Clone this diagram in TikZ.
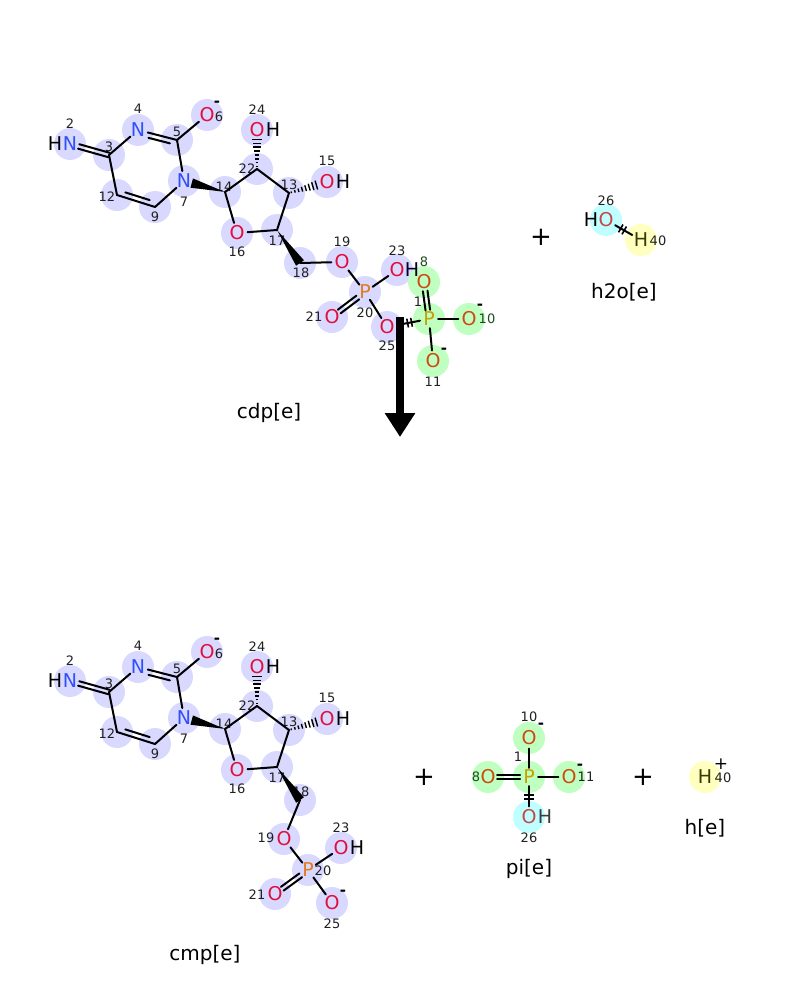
\documentclass[tikz,border=0pt]{standalone}
\usepackage{fontspec}
\setmainfont{DejaVu Sans}
\usetikzlibrary{calc,arrows.meta}
\definecolor{lav}{HTML}{D9D9FF}
\definecolor{grn}{HTML}{BFFFBF}
\definecolor{cyn}{HTML}{BFFFFF}
\definecolor{yel}{HTML}{FFFFBF}
\definecolor{ncol}{HTML}{3050F8}
\definecolor{ocol}{HTML}{E0103C}
\definecolor{pcol}{HTML}{E07B20}
\definecolor{ogcol}{HTML}{CC4A14}
\definecolor{pgcol}{HTML}{C8A000}
\definecolor{ocyan}{HTML}{C44848}
\definecolor{hycol}{HTML}{3A3A00}
\definecolor{numc}{HTML}{202020}
\definecolor{numg}{HTML}{1E4A1E}
\newcommand\atomfont{\fontsize{19}{19}\selectfont}
\newcommand\numfont{\fontsize{13}{13}\selectfont}
\newcommand\lblfont{\fontsize{20}{20}\selectfont}
\pgfdeclarelayer{bg}
\pgfsetlayers{bg,main}
\tikzset{
  atom/.style={circle,minimum size=18pt,inner sep=0pt,font=\atomfont},
  hyd/.style={inner sep=0pt,font=\atomfont,text=black},
  num/.style={inner sep=0pt,font=\numfont,text=numc},
  numgr/.style={inner sep=0pt,font=\numfont,text=numg},
  chg/.style={inner sep=0pt,font=\fontsize{15}{15}\selectfont\bfseries,text=black},
  lbl/.style={inner sep=0pt,font=\lblfont,text=black},
  plussign/.style={inner sep=0pt,font=\fontsize{26}{26}\selectfont,text=black},
  bond/.style={line width=2pt,line cap=round,draw=black},
  markb/.style={line width=1.6pt,draw=black},
  reactarrow/.style={line width=8pt,-{Triangle[width=29pt,length=24pt]}}
}
% symmetric double bond
\newcommand\dblb[4]{%
  \draw[bond,shorten <=#3,shorten >=#4] ($(#1)!2.3pt!90:(#2)$) -- ($(#2)!2.3pt!-90:(#1)$);
  \draw[bond,shorten <=#3,shorten >=#4] ($(#1)!2.3pt!-90:(#2)$) -- ($(#2)!2.3pt!90:(#1)$);}
% inner line of a ring double bond
\newcommand\innerb[5]{%
  \draw[bond] ($(#1)!#3!(#2)!5pt!#5:(#2)$) -- ($(#1)!#4!(#2)!5pt!#5:(#2)$);}
% hashed bond: narrow atom, wide atom, end fraction
\newcommand\hashb[3]{%
  \foreach \k in {0,...,7}{%
    \pgfmathsetmacro\hf{0.06+(#3-0.06)*\k/7}%
    \pgfmathsetmacro\hw{0.8+3.8*\k/7}%
    \draw[line width=1.4pt] ($(#1)!\hf!(#2)!\hw pt!90:(#2)$) -- ($(#1)!\hf!(#2)!\hw pt!-90:(#2)$);}}
% wedge bond: narrow atom, wide atom, inset at wide end
\newcommand\wedgeb[3]{%
  \fill ($(#1)!0.5pt!(#2)$) -- ($(#2)!#3!(#1)!4.8pt!90:(#1)$) -- ($(#2)!#3!(#1)!4.8pt!-90:(#1)$) -- cycle;}
% two cross marks on a bond
\newcommand\crossb[5]{%
  \draw[markb] ($(#1)!#3!(#2)!#5!90:(#2)$) -- ($(#1)!#3!(#2)!#5!-90:(#2)$);
  \draw[markb] ($(#1)!#4!(#2)!#5!90:(#2)$) -- ($(#1)!#4!(#2)!#5!-90:(#2)$);}
% cytidine part
\newcommand\nucpart[1]{%
  \coordinate (#1C3) at (109,155);
  \coordinate (#1C5) at (177,140);
  \coordinate (#1C9) at (155,207);
  \coordinate (#1C12) at (117,195);
  \coordinate (#1C14) at (225,192);
  \coordinate (#1C22) at (257,169);
  \coordinate (#1C13) at (289,193);
  \coordinate (#1C17) at (277,230);
  \coordinate (#1C18) at (300,263);
  \begin{pgfonlayer}{bg}
    \foreach \p/\q in {70/144,109/155,138/130,177/140,207/115,184/181,155/207,117/195,225/192,257/169,257/130,289/193,327/182,237/233,277/230,300/263}{\fill[lav] (\p,\q) circle (16pt);}
  \end{pgfonlayer}
  \node[num] (#1n2) at (70,124) {2};
  \node[num] (#1n3) at (109,147) {3};
  \node[num] (#1n4) at (138,109) {4};
  \node[num] (#1n5) at (177,132) {5};
  \node[num] (#1n6) at (219,117) {6};
  \node[num] (#1n7) at (184,202) {7};
  \node[num] (#1n9) at (155,217) {9};
  \node[num] (#1n12) at (107,197) {12};
  \node[num] (#1n13) at (289,185) {13};
  \node[num] (#1n14) at (224,187) {14};
  \node[num] (#1n15) at (327,161) {15};
  \node[num] (#1n16) at (237,252) {16};
  \node[num] (#1n17) at (277,241) {17};
  \node[num] (#1n22) at (247,169) {22};
  \node[num] (#1n24) at (257,110) {24};
  \node[atom,text=ncol] (#1N2) at (70,144) {N};
  \node[atom,text=ncol] (#1N4) at (138,130) {N};
  \node[atom,text=ocol] (#1O6) at (207,115) {O};
  \node[atom,text=ncol] (#1N7) at (184,181) {N};
  \node[atom,text=ocol] (#1O24) at (257,130) {O};
  \node[atom,text=ocol] (#1O15) at (327,182) {O};
  \node[atom,text=ocol] (#1O16) at (237,233) {O};
  \node[hyd] (#1H2) at (55,144) {H};
  \node[hyd] (#1H24) at (273,130) {H};
  \node[hyd] (#1H15) at (343,182) {H};
  \node[chg] (#1q6) at (217,104) {-};
  \dblb{#1N2}{#1C3}{9pt}{0pt}
  \draw[bond] (#1C3) -- (#1N4);
  \draw[bond] (#1N4) -- (#1C5);
  \innerb{#1N4}{#1C5}{0.3}{0.85}{-90}
  \draw[bond] (#1C5) -- (#1O6);
  \draw[bond] (#1C5) -- (#1N7);
  \draw[bond] (#1N7) -- (#1C9);
  \draw[bond] (#1C9) -- (#1C12);
  \innerb{#1C12}{#1C9}{0.18}{0.82}{90}
  \draw[bond] (#1C12) -- (#1C3);
  \wedgeb{#1C14}{#1N7}{8pt}
  \draw[bond] (#1C14) -- (#1C22);
  \draw[bond] (#1C22) -- (#1C13);
  \draw[bond] (#1C13) -- (#1C17);
  \draw[bond] (#1C17) -- (#1O16);
  \draw[bond] (#1O16) -- (#1C14);
  \hashb{#1C22}{#1O24}{0.76}
  \hashb{#1C13}{#1O15}{0.72}
}
\begin{document}
\begin{tikzpicture}[x=1pt,y=-1pt]
\useasboundingbox (0,0) rectangle (800,1000);
% ================= top: cdp =================
\nucpart{t}
\node[num] (tn18) at (301,273) {18};
\wedgeb{tC17}{tC18}{0pt}
\begin{pgfonlayer}{bg}
  \foreach \p/\q in {342/262,365/292,397/270,332/317,387/327}{\fill[lav] (\p,\q) circle (16pt);}
  \foreach \p/\q in {429/319,424/282,469/319,433/361}{\fill[grn] (\p,\q) circle (16pt);}
  \fill[cyn] (606,220) circle (16pt);
  \fill[yel] (641,240) circle (16pt);
\end{pgfonlayer}
\node[num] (tn19) at (342,242) {19};
\node[num] (tn20) at (365,313) {20};
\node[num] (tn21) at (314,317) {21};
\node[num] (tn23) at (397,251) {23};
\node[num] (tn25) at (387,346) {25};
\node[num] (tn1) at (418,302) {1};
\node[numgr] (tn8) at (424,262) {8};
\node[numgr] (tn10) at (487,319) {10};
\node[num] (tn11) at (433,382) {11};
\node[atom,text=ocol] (tO19) at (342,262) {O};
\node[atom,text=pcol] (tP20) at (365,292) {P};
\node[atom,text=ocol] (tO23) at (397,270) {O};
\node[hyd,text=black!85!blue] (tH23) at (412,270) {H};
\node[atom,text=ocol] (tO21) at (332,317) {O};
\node[atom,text=ocol] (tO25) at (387,327) {O};
\node[atom,text=pgcol] (tP1) at (429,319) {P};
\node[atom,text=ogcol] (tO8) at (424,282) {O};
\node[atom,text=ogcol] (tO10) at (469,319) {O};
\node[atom,text=ogcol] (tO11) at (433,361) {O};
\node[chg] (tq10) at (480,307) {-};
\node[chg] (tq11) at (444,351) {-};
\draw[bond] (tC18) -- (tO19);
\draw[bond] (tO19) -- (tP20);
\draw[bond] (tP20) -- (tO23);
\dblb{tP20}{tO21}{9pt}{9pt}
\draw[bond] (tP20) -- (tO25);
\draw[bond] (tO25) -- (tP1);
\crossb{tO25}{tP1}{21pt}{25pt}{4.5pt}
\dblb{tP1}{tO8}{9pt}{9pt}
\draw[bond] (tP1) -- (tO10);
\draw[bond] (tP1) -- (tO11);
\node[lbl] (cdp) at (269,413) {cdp[e]};
% water
\node[plussign] (plus1) at (541,237) {+};
\node[num] (wn26) at (606,201) {26};
\node[num] (wn40) at (658,241) {40};
\node[atom,text=ocyan] (wO26) at (606,220) {O};
\node[hyd] (wH26) at (591,220) {H};
\node[atom,text=hycol] (wH40) at (641,240) {H};
\draw[bond] (wO26) -- (wH40);
\crossb{wO26}{wH40}{17pt}{21pt}{4.5pt}
\node[lbl] (h2o) at (624,292) {h2o[e]};
% arrow
\coordinate (arrS) at (400,317);
\coordinate (arrE) at (400,437);
\draw[reactarrow] (arrS) -- (arrE);
% ================= bottom: cmp =================
\begin{scope}[yshift=-537pt]
\nucpart{b}
\end{scope}
\node[num] (bn18) at (301,792) {18};
\wedgeb{bC17}{bC18}{0pt}
\begin{pgfonlayer}{bg}
  \foreach \p/\q in {284/839,308/870,341/848,275/894,332/903}{\fill[lav] (\p,\q) circle (16pt);}
  \foreach \p/\q in {529/738,529/777,488/777,569/777}{\fill[grn] (\p,\q) circle (16pt);}
  \fill[cyn] (529,817) circle (16pt);
  \fill[yel] (705,777) circle (16pt);
\end{pgfonlayer}
\node[num] (bn19) at (266,838) {19};
\node[num] (bn20) at (323,871) {20};
\node[num] (bn21) at (257,895) {21};
\node[num] (bn23) at (341,828) {23};
\node[num] (bn25) at (332,924) {25};
\node[atom,text=ocol] (bO19) at (284,839) {O};
\node[atom,text=pcol] (bP20) at (308,870) {P};
\node[atom,text=ocol] (bO23) at (341,848) {O};
\node[hyd] (bH23) at (357,848) {H};
\node[atom,text=ocol] (bO21) at (275,894) {O};
\node[atom,text=ocol] (bO25) at (332,903) {O};
\node[chg] (bq25) at (343,893) {-};
\draw[bond] (bC18) -- (bO19);
\draw[bond] (bO19) -- (bP20);
\draw[bond] (bP20) -- (bO23);
\dblb{bP20}{bO21}{9pt}{9pt}
\draw[bond] (bP20) -- (bO25);
\node[lbl] (cmp) at (205,955) {cmp[e]};
% pi
\node[plussign] (plus2) at (424,777) {+};
\node[num] (pn10) at (529,717) {10};
\node[num] (pn1) at (518,757) {1};
\node[numgr] (pn8) at (476,777) {8};
\node[num] (pn11) at (586,777) {11};
\node[num] (pn26) at (529,838) {26};
\node[atom,text=ogcol] (pO10) at (529,738) {O};
\node[atom,text=pgcol] (pP1) at (529,777) {P};
\node[atom,text=ogcol] (pO8) at (488,777) {O};
\node[atom,text=ogcol] (pO11) at (569,777) {O};
\node[atom,text=ocyan] (pO26) at (529,817) {O};
\node[hyd,text=black!85!cyan] (pH26) at (545,817) {H};
\node[chg] (pq10) at (541,726) {-};
\node[chg] (pq11) at (580,767) {-};
\draw[bond] (pP1) -- (pO10);
\dblb{pP1}{pO8}{9pt}{9pt}
\draw[bond] (pP1) -- (pO11);
\draw[bond] (pP1) -- (pO26);
\crossb{pP1}{pO26}{18pt}{22pt}{5pt}
\node[lbl] (pi) at (529,869) {pi[e]};
% h
\node[plussign] (plus3) at (643,777) {+};
\node[num] (hn40) at (723,778) {40};
\node[atom,text=hycol] (hH40) at (705,777) {H};
\node[chg,font=\fontsize{17}{17}\selectfont] (hq40) at (721,764) {+};
\node[lbl] (hlbl) at (705,828) {h[e]};
\end{tikzpicture}
\end{document}
